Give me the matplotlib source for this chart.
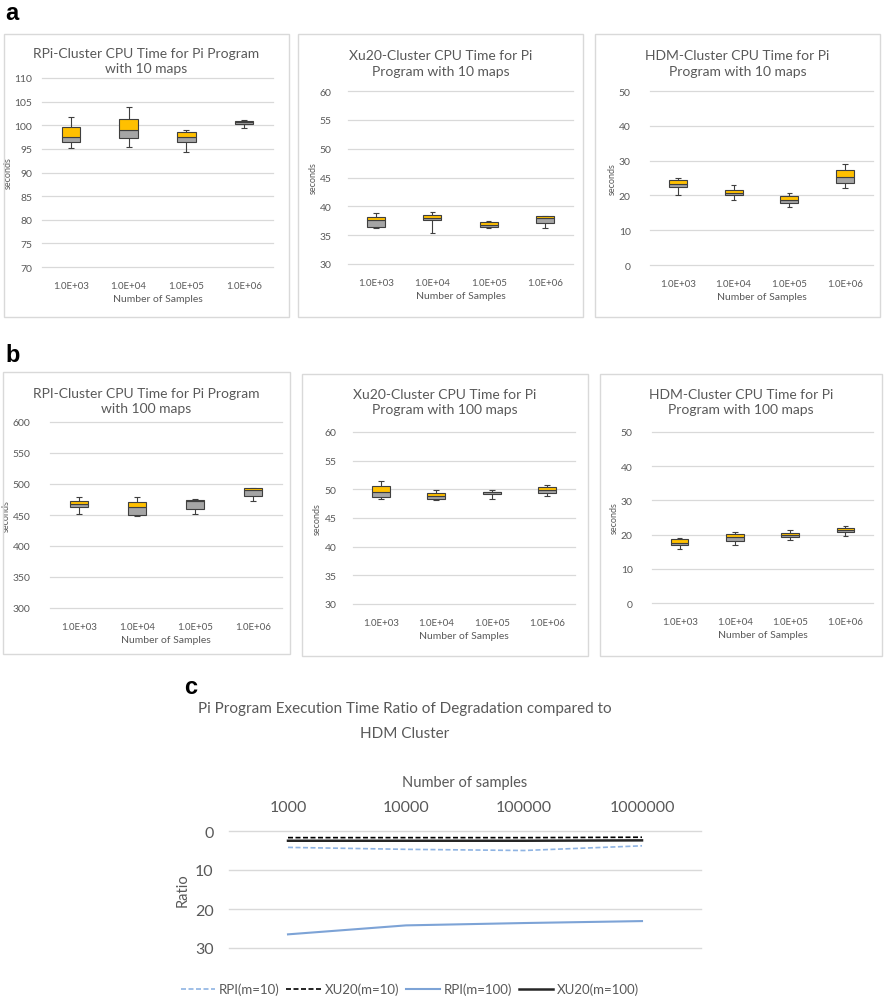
import numpy as np
import matplotlib.pyplot as plt
from matplotlib.patches import Rectangle

plt.rcParams['font.family'] = ['Lato', 'DejaVu Sans']

W, H = 884, 1003
GOLD = '#FFC000'
GREY = '#A5A5A5'
EDGE = '#3F3F3F'
TXT = '#595959'
GRID = '#D9D9D9'

samples = ['1.0E+03', '1.0E+04', '1.0E+05', '1.0E+06']

# panel a (10 maps): min, q1, median, q3, max per sample size
rpi10_min = [95.2, 95.4, 94.4, 99.5]
rpi10_q1 = [96.5, 97.4, 96.4, 100.3]
rpi10_med = [97.5, 98.9, 97.6, 100.7]
rpi10_q3 = [99.6, 101.4, 98.5, 101.0]
rpi10_max = [101.8, 103.8, 99.1, 101.1]

xu10_min = [36.3, 35.4, 36.3, 36.2]
xu10_q1 = [36.5, 37.6, 36.5, 37.1]
xu10_med = [37.6, 38.0, 36.8, 38.0]
xu10_q3 = [38.2, 38.5, 37.3, 38.3]
xu10_max = [38.8, 39.1, 37.4, 38.3]

hdm10_min = [20.1, 18.6, 16.8, 22.1]
hdm10_q1 = [22.3, 20.0, 17.8, 23.6]
hdm10_med = [23.2, 20.6, 18.7, 25.4]
hdm10_q3 = [24.3, 21.5, 19.7, 27.4]
hdm10_max = [25.0, 22.9, 20.8, 29.0]

# panel b (100 maps)
rpi100_min = [452, 449, 452, 473]
rpi100_q1 = [463, 450, 460, 481]
rpi100_med = [467, 463, 473, 491]
rpi100_q3 = [473, 471, 475, 493]
rpi100_max = [479, 479, 476, 494]

xu100_min = [48.4, 48.2, 48.3, 48.9]
xu100_q1 = [48.7, 48.4, 49.2, 49.4]
xu100_med = [49.5, 48.9, 49.5, 49.9]
xu100_q3 = [50.6, 49.4, 49.6, 50.4]
xu100_max = [51.5, 49.9, 49.9, 50.7]

hdm100_min = [15.9, 17.0, 18.3, 19.6]
hdm100_q1 = [17.1, 18.1, 19.4, 20.8]
hdm100_med = [17.6, 19.2, 19.9, 21.2]
hdm100_q3 = [18.6, 20.2, 20.6, 21.9]
hdm100_max = [19.0, 20.9, 21.2, 22.6]

# panel c: ratio of degradation vs HDM
ratio_samples = ['1000', '10000', '100000', '1000000']
rpi_m10 = [4.2, 4.7, 5.0, 3.8]
xu20_m10 = [1.7, 1.7, 1.7, 1.6]
rpi_m100 = [26.5, 24.2, 23.6, 23.1]
xu20_m100 = [2.5, 2.5, 2.5, 2.4]


def px(x0, y0, x1, y1):
    # pixel box (top-left origin) -> figure fraction rect
    return [x0 / W, 1 - y1 / H, (x1 - x0) / W, (y1 - y0) / H]


fig = plt.figure(figsize=(W / 100, H / 100), dpi=100)


def box_panel(rect, border, title_y, title, stats, ylim, step, ypad):
    mn, q1, md, q3, mx = [np.array(s, dtype=float) for s in stats]
    bx = px(*border)
    fig.add_artist(Rectangle((bx[0], bx[1]), bx[2], bx[3], transform=fig.transFigure,
                             fill=False, ec=GRID, lw=1.0))
    fig.text(bx[0] + bx[2] / 2, 1 - title_y / H, title, ha='center', va='center',
             fontsize=10, color=TXT, linespacing=1.3)
    ax = fig.add_axes(px(*rect))
    x = np.arange(len(samples))
    ax.vlines(x, mn, q1, color=EDGE, lw=0.8, zorder=2)
    ax.vlines(x, q3, mx, color=EDGE, lw=0.8, zorder=2)
    ax.hlines(mn, x - 0.05, x + 0.05, color=EDGE, lw=0.8, zorder=2)
    ax.hlines(mx, x - 0.05, x + 0.05, color=EDGE, lw=0.8, zorder=2)
    ax.bar(x, q1 - md, bottom=md, width=0.32, color=GREY, edgecolor=EDGE, lw=0.8, zorder=3)
    ax.bar(x, q3 - md, bottom=md, width=0.32, color=GOLD, edgecolor=EDGE, lw=0.8, zorder=3)
    ax.set_xlim(-0.5, 3.5)
    ax.set_ylim(*ylim)
    ax.set_yticks(np.arange(ylim[0], ylim[1] + step / 2, step))
    ax.set_xticks(x, samples)
    ax.grid(axis='y', color=GRID, lw=0.9)
    for g in ax.get_ygridlines():
        g.set_clip_on(False)
    ax.set_axisbelow(True)
    for s in ax.spines.values():
        s.set_visible(False)
    ax.tick_params(axis='x', length=0, colors=TXT, labelsize=7, pad=10)
    ax.tick_params(axis='y', length=0, colors=TXT, labelsize=7.5, pad=ypad)
    ax.set_xlabel('Number of Samples', fontsize=7.5, color=TXT, labelpad=3)
    ax.set_ylabel('seconds', fontsize=6.5, color=TXT, labelpad=1.5)
    return ax


box_panel((42, 79, 273, 268), (4, 35, 289, 318), 61.5,
          'RPi-Cluster CPU Time for Pi Program\nwith 10 maps',
          (rpi10_min, rpi10_q1, rpi10_med, rpi10_q3, rpi10_max), (70, 110), 5, 7)
box_panel((348, 92, 573, 265), (298, 35, 583, 318), 64,
          'Xu20-Cluster CPU Time for Pi\nProgram with 10 maps',
          (xu10_min, xu10_q1, xu10_med, xu10_q3, xu10_max), (30, 60), 5, 12)
box_panel((650, 92, 873, 266), (595, 35, 880, 318), 64,
          'HDM-Cluster CPU Time for Pi\nProgram with 10 maps',
          (hdm10_min, hdm10_q1, hdm10_med, hdm10_q3, hdm10_max), (0, 50), 10, 14)

box_panel((50, 423, 282, 609), (3, 373, 290, 655), 401.5,
          'RPI-Cluster CPU Time for Pi Program\nwith 100 maps',
          (rpi100_min, rpi100_q1, rpi100_med, rpi100_q3, rpi100_max), (300, 600), 50, 14)
box_panel((353, 433, 575, 605), (302, 375, 588, 657), 402.5,
          'Xu20-Cluster CPU Time for Pi\nProgram with 100 maps',
          (xu100_min, xu100_q1, xu100_med, xu100_q3, xu100_max), (30, 60), 5, 12)
box_panel((652, 433, 873, 604), (600, 375, 882, 657), 402.5,
          'HDM-Cluster CPU Time for Pi\nProgram with 100 maps',
          (hdm100_min, hdm100_q1, hdm100_med, hdm100_q3, hdm100_max), (0, 50), 10, 14)

# panel letters
for letter, lx, ly in [('a', 5, 14), ('b', 5, 356), ('c', 184, 688)]:
    fig.text(lx / W, 1 - ly / H, letter, fontsize=17, fontweight='bold',
             family='Liberation Sans', va='center', ha='left', color='black')

# panel c
axc = fig.add_axes(px(229, 832, 701, 949))
xc = np.arange(len(ratio_samples))
l1, = axc.plot(xc, rpi_m10, color='#8FB4E3', lw=1.2, ls=(0, (3, 1.5)))
l2, = axc.plot(xc, xu20_m10, color='black', lw=1.2, ls=(0, (3, 1.5)))
l3, = axc.plot(xc, rpi_m100, color='#7DA3D6', lw=1.5)
l4, = axc.plot(xc, xu20_m100, color='#262626', lw=1.8)
axc.set_xlim(-0.5, 3.5)
axc.set_ylim(30, 0)
axc.set_yticks([0, 10, 20, 30])
axc.xaxis.tick_top()
axc.xaxis.set_label_position('top')
axc.set_xticks(xc, ratio_samples)
axc.grid(axis='y', color=GRID, lw=1.0)
for g in axc.get_ygridlines():
    g.set_clip_on(False)
axc.set_axisbelow(True)
for s in axc.spines.values():
    s.set_visible(False)
axc.tick_params(axis='x', length=0, colors=TXT, labelsize=11.5, pad=12)
axc.tick_params(axis='y', length=0, colors=TXT, labelsize=11.5, pad=11)
axc.set_xlabel('Number of samples', fontsize=10.5, color=TXT, labelpad=10)
axc.set_ylabel('Ratio', fontsize=10.5, color=TXT, labelpad=4)

fig.text(405 / W, 1 - 722 / H,
         'Pi Program Execution Time Ratio of Degradation compared to\nHDM Cluster',
         ha='center', va='center', fontsize=11, color=TXT, linespacing=2.0)

leg = fig.legend([l1, l2, l3, l4], ['RPI(m=10)', 'XU20(m=10)', 'RPI(m=100)', 'XU20(m=100)'],
                 loc='center', bbox_to_anchor=(410 / W, 1 - 990 / H), ncol=4, frameon=False,
                 fontsize=9.5, handlelength=2.6, handletextpad=0.3, columnspacing=0.5)
for t in leg.get_texts():
    t.set_color(TXT)

fig.savefig('out.png', dpi=100)
